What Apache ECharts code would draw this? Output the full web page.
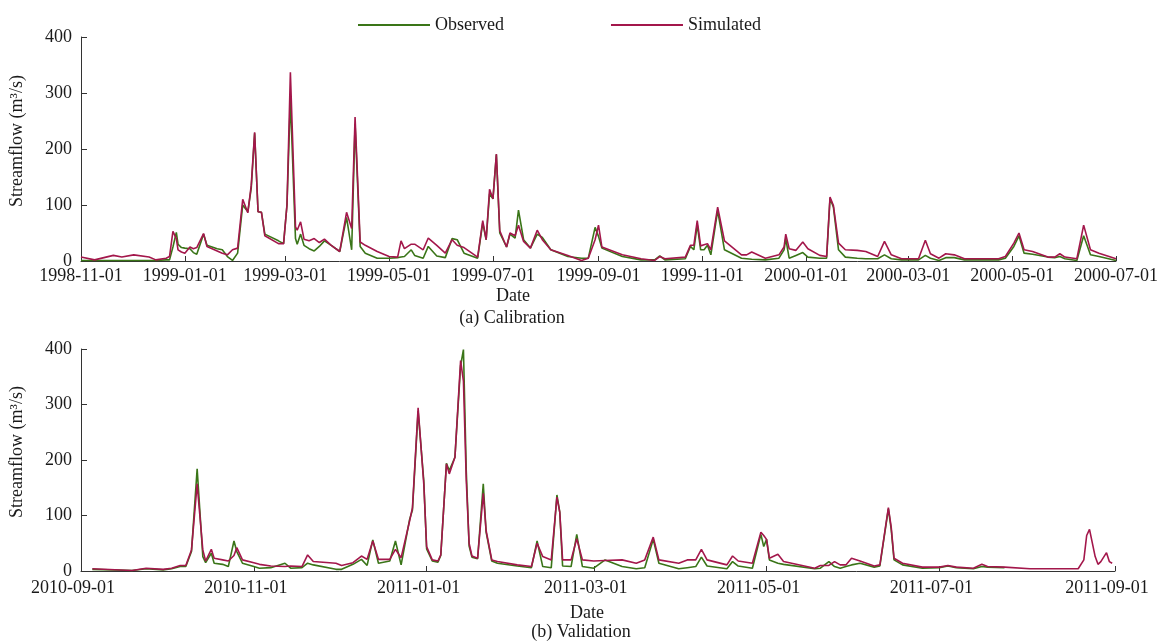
<!DOCTYPE html>
<html>
<head>
<meta charset="utf-8">
<script src="https://cdn.jsdelivr.net/npm/echarts@6/dist/echarts.min.js"></script>
<style>
html,body{margin:0;padding:0;background:#fff;}
#chart{width:1171px;height:642px;}
</style>
</head>
<body>
<div id="chart"></div>
<script>
// ---------- Panel (a) Calibration ----------
const datesA = ['1998-11-01','1998-11-09','1998-11-20','1998-11-25','1998-12-02','1998-12-11','1998-12-15','1998-12-21','1998-12-23','1998-12-25','1998-12-27','1998-12-28','1998-12-30',
'1999-01-01','1999-01-04','1999-01-06','1999-01-08','1999-01-12','1999-01-14','1999-01-20','1999-01-23','1999-01-26','1999-01-29','1999-02-01','1999-02-04','1999-02-07','1999-02-09','1999-02-11','1999-02-13','1999-02-15','1999-02-17','1999-02-25','1999-02-28',
'1999-03-02','1999-03-04','1999-03-07','1999-03-08','1999-03-10','1999-03-12','1999-03-15','1999-03-18','1999-03-21','1999-03-24','1999-03-28','1999-04-02','1999-04-06','1999-04-09','1999-04-11','1999-04-14','1999-04-17','1999-04-24',
'1999-05-01','1999-05-06','1999-05-08','1999-05-10','1999-05-14','1999-05-16','1999-05-21','1999-05-24','1999-05-29','1999-06-03','1999-06-07','1999-06-10','1999-06-14','1999-06-22','1999-06-23','1999-06-25','1999-06-27','1999-06-29',
'1999-07-01','1999-07-03','1999-07-05','1999-07-09','1999-07-11','1999-07-14','1999-07-16','1999-07-19','1999-07-23','1999-07-27','1999-07-30','1999-08-04','1999-08-14','1999-08-22','1999-08-26','1999-08-30',
'1999-09-01','1999-09-03','1999-09-15','1999-09-26','1999-10-04','1999-10-07','1999-10-10','1999-10-22','1999-10-25','1999-10-27','1999-10-29','1999-10-31','1999-11-02','1999-11-04','1999-11-06','1999-11-10','1999-11-14','1999-11-24','1999-11-27','1999-11-30',
'1999-12-08','1999-12-16','1999-12-19','1999-12-20','1999-12-22','1999-12-26','1999-12-30','2000-01-02','2000-01-09','2000-01-13','2000-01-15','2000-01-17','2000-01-20','2000-01-24','2000-01-31','2000-02-05','2000-02-12','2000-02-16','2000-02-20','2000-02-26',
'2000-03-07','2000-03-11','2000-03-14','2000-03-19','2000-03-23','2000-03-28','2000-04-03','2000-04-23','2000-04-27','2000-05-02','2000-05-05','2000-05-08','2000-05-13','2000-05-22','2000-05-26','2000-05-29','2000-06-01','2000-06-08','2000-06-12','2000-06-16','2000-06-21','2000-07-01'];
const obsA = [1,1,1,1,1,1,1,2,2,25,51,30,24,
23,22,15,12,48,28,22,20,8,1,14,100,88,130,228,88,87,48,36,31,
100,290,40,30,48,28,22,18,26,36,28,17,78,20,245,26,14,5,
5,6,7,8,20,10,5,26,9,6,40,38,14,5,5,68,38,120,
111,190,50,25,48,41,91,38,23,48,42,20,8,5,5,60,
44,23,8,2,2,9,2,4,26,20,65,20,20,28,11,90,20,5,4,3,
2,5,20,40,5,10,15,7,5,5,112,96,20,7,5,4,4,11,4,2,
2,10,5,1,6,6,2,2,5,26,45,14,12,7,6,8,4,1,45,11,8,1];
const simA = [7,2,10,7,11,7,2,5,8,53,40,20,16,
14,25,22,24,49,26,18,14,11,20,23,110,86,135,230,88,87,45,31,31,
100,337,61,55,70,39,36,40,33,39,28,17,87,58,257,34,28,17,
8,7,36,22,30,30,20,41,28,14,38,28,24,7,5,72,38,128,
111,191,54,25,50,45,64,35,23,55,38,20,10,1,5,38,
64,25,11,4,1,8,4,7,28,28,72,27,29,31,20,96,36,11,11,16,
5,11,25,48,22,19,34,22,10,8,114,99,32,20,19,17,8,35,11,4,
4,37,13,5,13,11,4,4,8,32,50,20,17,7,7,13,7,4,64,20,14,4];
const ticksA = ['1998-11-01','1999-01-01','1999-03-01','1999-05-01','1999-07-01','1999-09-01','1999-11-01','2000-01-01','2000-03-01','2000-05-01','2000-07-01'];

// ---------- Panel (b) Validation ----------
const datesB = ['2010-09-05','2010-09-19','2010-09-24','2010-09-30','2010-10-03','2010-10-06','2010-10-08','2010-10-10','2010-10-12','2010-10-14','2010-10-15','2010-10-17','2010-10-18','2010-10-21','2010-10-23','2010-10-25','2010-10-26','2010-10-28',
'2010-11-01','2010-11-03','2010-11-07','2010-11-12','2010-11-14','2010-11-18','2010-11-20','2010-11-22','2010-11-30','2010-12-02','2010-12-06','2010-12-09','2010-12-11','2010-12-13','2010-12-15','2010-12-19','2010-12-21','2010-12-23','2010-12-26','2010-12-27','2010-12-29','2010-12-31',
'2011-01-01','2011-01-03','2011-01-05','2011-01-06','2011-01-08','2011-01-09','2011-01-11','2011-01-13','2011-01-14','2011-01-15','2011-01-16','2011-01-17','2011-01-19','2011-01-21','2011-01-22','2011-01-24','2011-01-26',
'2011-02-02','2011-02-07','2011-02-09','2011-02-11','2011-02-14','2011-02-16','2011-02-17','2011-02-18','2011-02-21','2011-02-23','2011-02-25',
'2011-03-01','2011-03-05','2011-03-11','2011-03-16','2011-03-19','2011-03-22','2011-03-24','2011-03-31','2011-04-03','2011-04-06','2011-04-08','2011-04-10','2011-04-17','2011-04-19','2011-04-21','2011-04-26','2011-04-29','2011-04-30',
'2011-05-01','2011-05-02','2011-05-05','2011-05-07','2011-05-18','2011-05-20','2011-05-23','2011-05-25','2011-05-27','2011-05-29','2011-05-31','2011-06-03','2011-06-08','2011-06-10','2011-06-13','2011-06-14','2011-06-15','2011-06-18','2011-06-25',
'2011-07-01','2011-07-04','2011-07-07','2011-07-13','2011-07-16','2011-07-18','2011-07-24','2011-08-02','2011-08-19','2011-08-21','2011-08-22','2011-08-23','2011-08-25','2011-08-26','2011-08-27','2011-08-29','2011-08-30','2011-08-31'];
const obsB = [3,1,4,2,4,8,8,35,184,26,15,32,14,12,8,54,35,14,
8,5,6,14,5,6,14,11,3,3,12,21,10,56,14,18,54,11,93,110,288,163,
40,18,16,28,194,181,205,370,399,180,45,25,22,157,70,18,14,
9,6,54,8,6,137,106,9,8,66,8,
5,20,8,4,6,57,14,4,6,8,25,9,4,17,9,5,66,44,
57,20,14,12,4,5,17,8,5,8,11,14,7,9,112,75,20,11,5,
6,9,6,4,8,7,6,null,null,null,null,null,null,null,null,null,null,null];
const simB = [4,1,5,3,5,10,10,38,157,38,18,39,23,20,18,28,42,20,
15,12,9,8,9,8,29,17,14,10,15,27,21,54,21,21,39,24,90,114,294,157,
44,20,18,29,193,175,205,379,342,163,50,27,23,140,73,20,17,
11,8,50,26,20,133,106,20,20,58,20,
18,19,20,14,20,61,20,14,20,20,39,20,11,27,18,14,70,64,
57,23,30,17,5,10,10,17,11,11,23,18,9,11,114,79,23,14,7,
7,10,7,5,12,8,7,4,4,20,64,75,26,12,17,33,17,14];
const ticksB = ['2010-09-01','2010-11-01','2011-01-01','2011-03-01','2011-05-01','2011-07-01','2011-09-01'];

const OBS_COLOR = '#3a7518';
const SIM_COLOR = '#a3174b';
const FONT = "'Liberation Serif','Times New Roman',serif";
const TXT = '#1a1a1a';

// dates -> UTC timestamps, plotted on a numeric (value) axis
const ts = s => Date.UTC(+s.slice(0, 4), +s.slice(5, 7) - 1, +s.slice(8, 10));
const pad2 = n => (n < 10 ? '0' : '') + n;
const fmt = v => { const d = new Date(v); return d.getUTCFullYear() + '-' + pad2(d.getUTCMonth() + 1) + '-' + pad2(d.getUTCDate()); };
const zip = (d, v) => d.map((x, i) => [ts(x), v[i]]);

function xAxisFor(idx, ticks, margin, padRight) {
  const vals = ticks.map(ts);
  return {
    type: 'value', gridIndex: idx, scale: true,
    min: vals[0], max: vals[vals.length - 1],
    axisLine: {show: true, onZero: false, lineStyle: {color: '#333', width: 1}},
    axisTick: {show: true, inside: true, length: 5, customValues: vals, lineStyle: {color: '#333'}},
    axisLabel: {customValues: vals, formatter: fmt, fontFamily: FONT, fontSize: 18, color: TXT,
      margin: margin, padding: [0, padRight, 0, 0], showMinLabel: true, showMaxLabel: true, hideOverlap: false},
    splitLine: {show: false}, minorTick: {show: false}
  };
}
function yAxisFor(idx) {
  return {
    type: 'value', gridIndex: idx, min: 0, max: 400, interval: 100,
    name: 'Streamflow (m³/s)', nameLocation: 'middle', nameGap: 55,
    nameTextStyle: {fontFamily: FONT, fontSize: 18, color: TXT, padding: [0, 0, 0, 16]},
    axisLine: {show: true, lineStyle: {color: '#333', width: 1}},
    axisTick: {show: true, inside: true, length: 6, lineStyle: {color: '#333'}},
    axisLabel: {fontFamily: FONT, fontSize: 18, color: TXT, margin: 9},
    splitLine: {show: false}
  };
}
function lineSeries(name, idx, data, color) {
  return {
    name: name, type: 'line', xAxisIndex: idx, yAxisIndex: idx, data: data,
    showSymbol: false, symbol: 'none', smooth: false, connectNulls: false,
    lineStyle: {color: color, width: 1.6}, itemStyle: {color: color},
    animation: false
  };
}
function label(text, x, y) {
  return {text: text, left: x, top: y, textAlign: 'center', padding: 0,
    textStyle: {fontFamily: FONT, fontSize: 18, fontWeight: 'normal', color: TXT, lineHeight: 20}};
}

const chart = echarts.init(document.getElementById('chart'), null, {renderer: 'canvas'});
chart.setOption({
  backgroundColor: '#fff',
  animation: false,
  title: [
    label('Date', 513, 286),
    label('(a) Calibration', 512, 308),
    label('Date', 587, 603),
    label('(b) Validation', 581, 622)
  ],
  legend: {
    left: 353, top: 11, icon: 'rect', itemWidth: 72, itemHeight: 2, itemGap: 107,
    textStyle: {fontFamily: FONT, fontSize: 18, color: TXT},
    data: ['Observed', 'Simulated']
  },
  grid: [
    {left: 77, top: 37, width: 1039, height: 224, containLabel: false},
    {left: 76, top: 349, width: 1039, height: 222, containLabel: false}
  ],
  xAxis: [xAxisFor(0, ticksA, 6, 0), xAxisFor(1, ticksB, 8, 16)],
  yAxis: [yAxisFor(0), yAxisFor(1)],
  series: [
    lineSeries('Observed', 0, zip(datesA, obsA), OBS_COLOR),
    lineSeries('Simulated', 0, zip(datesA, simA), SIM_COLOR),
    lineSeries('Observed', 1, zip(datesB, obsB), OBS_COLOR),
    lineSeries('Simulated', 1, zip(datesB, simB), SIM_COLOR)
  ]
});
</script>
</body>
</html>
